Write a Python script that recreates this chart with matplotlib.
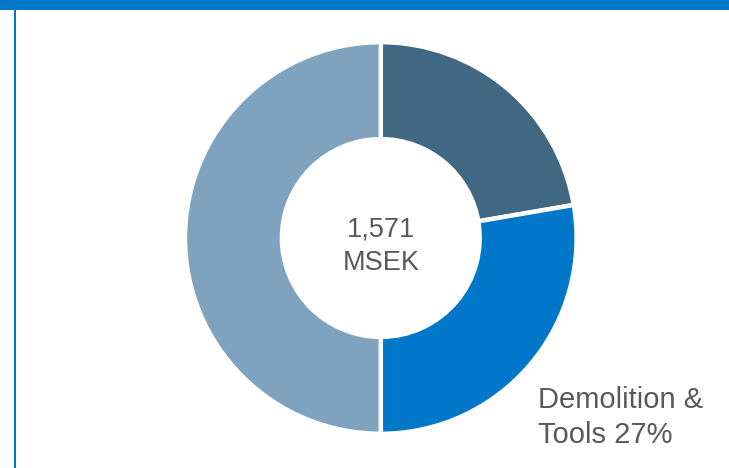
import matplotlib
matplotlib.use("Agg")
import matplotlib.pyplot as plt
from matplotlib.patches import Rectangle

segments = ["Other A", "Demolition & Tools", "Other B"]
shares = [22.3, 27.7, 50.0]
colors = ["#416882", "#0077C8", "#7FA3BF"]
center_text = "1,571\nMSEK"
label_text = "Demolition &\nTools 27%"

W, H = 729, 468
fig = plt.figure(figsize=(W / 100, H / 100), dpi=100)
fig.patch.set_facecolor("white")

# header bar and left border
fig.patches.append(Rectangle((0, 1 - 10 / H), 1, 10 / H, transform=fig.transFigure,
                             facecolor="#0077C8", edgecolor="none"))
fig.patches.append(Rectangle((13.5 / W, 0), 2 / W, 1, transform=fig.transFigure,
                             facecolor="#0077C8", edgecolor="none"))

cx, cy, R = 380.8, 238, 195.8
box = 200
ax = fig.add_axes([(cx - box) / W, (H - cy - box) / H, 2 * box / W, 2 * box / H])
ax.pie(shares, colors=colors, startangle=90, counterclock=False, radius=R / box,
       wedgeprops=dict(width=0.495 * R / box, edgecolor="white", linewidth=3.2))
ax.set_xlim(-1, 1)
ax.set_ylim(-1, 1)
ax.set_aspect("equal")
ax.axis("off")

font = "Liberation Sans"
tc = "#595959"
for line, base in zip(center_text.split("\n"), [237, 270]):
    fig.text(cx / W, 1 - base / H, line, ha="center", va="baseline", fontsize=19.5,
             color=tc, family=font)
for line, base in zip(label_text.split("\n"), [408, 443]):
    fig.text(537.5 / W, 1 - base / H, line, ha="left", va="baseline", fontsize=21,
             color=tc, family=font)

fig.savefig("out.png", dpi=100)
